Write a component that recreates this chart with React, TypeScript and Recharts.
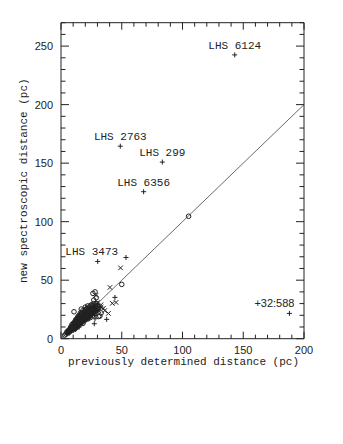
import { ScatterChart, Scatter, XAxis, YAxis, ReferenceLine, Label } from "recharts";

// distances in pc: [previously determined, new spectroscopic]
const xTicks = [0, 10, 20, 30, 40, 50, 60, 70, 80, 90, 100, 110, 120, 130, 140, 150, 160, 170, 180, 190, 200];
const yTicks = [0, 10, 20, 30, 40, 50, 60, 70, 80, 90, 100, 110, 120, 130, 140, 150, 160, 170, 180, 190, 200, 210, 220, 230, 240, 250, 260, 270];

const circlePoints: [number, number][] = [
  [3, 3], [4, 4], [5, 5], [5, 6], [6, 5], [6, 7], [7, 6], [7, 8], [8, 7], [8, 9], [9, 8], [9, 10],
  [10, 9], [10, 11], [10, 13], [11, 10], [11, 12], [11, 14], [12, 11], [12, 13], [12, 16], [13, 12],
  [13, 15], [13, 17], [14, 13], [14, 16], [14, 19], [15, 12], [15, 15], [15, 18], [16, 14], [16, 17],
  [16, 20], [17, 15], [17, 18], [17, 22], [18, 16], [18, 19], [18, 24], [19, 17], [19, 21], [20, 18],
  [20, 22], [20, 25], [21, 19], [21, 23], [22, 18], [22, 21], [22, 26], [23, 20], [23, 24], [24, 22],
  [24, 26], [25, 21], [25, 24], [26, 23], [26, 28], [27, 25], [27, 33], [28, 40], [28, 24], [29, 27],
  [29, 30], [30, 26], [31, 19], [32, 19.4], [33, 22], [10.7, 23], [16.7, 25.3], [26.3, 38.7],
  [50, 46.4], [105, 104.6], [6, 6], [8, 8], [9, 12], [10, 10], [11, 11], [12, 12], [13, 14], [14, 14],
  [15, 16], [16, 16], [17, 17], [18, 20], [19, 19], [20, 20], [21, 21], [22, 20], [23, 22], [24, 23],
  [25, 27], [26, 24], [13, 10], [15, 20], [17, 20], [19, 23], [21, 25], [23, 26], [25, 29], [27, 27],
  [12, 14], [14, 11], [16, 13], [18, 13], [20, 16], [22, 17], [24, 18], [26, 20], [28, 22],
  [7, 7], [8, 10], [9, 9], [10, 12], [11, 8], [11, 13], [12, 9], [12, 15], [13, 13], [13, 16],
  [14, 12], [14, 17], [15, 14], [15, 17], [16, 15], [16, 19], [17, 14], [17, 19], [18, 17], [18, 21],
  [19, 16], [19, 20], [20, 17], [20, 21], [21, 18], [21, 22], [22, 19], [22, 24], [23, 19], [23, 23],
  [24, 21], [24, 25], [25, 22], [25, 26], [26, 22], [26, 26], [27, 23], [27, 30], [28, 25], [28, 28],
  [29, 24], [30, 28], [31, 26], [20, 27], [18, 22], [16, 22], [14, 18], [22, 28], [24, 28], [29, 35],
];

const plusPoints: [number, number][] = [
  [5, 4], [7, 5], [8, 6], [9, 7], [10, 8], [11, 9], [12, 10], [12, 8], [13, 11], [14, 10], [14, 12],
  [15, 13], [15, 10], [16, 12], [16, 15], [17, 13], [17, 16], [18, 14], [18, 18], [19, 15], [19, 19],
  [20, 16], [20, 20], [21, 17], [21, 21], [22, 19], [22, 23], [23, 17], [23, 22], [24, 19], [24, 24],
  [25, 20], [25, 23], [26, 21], [26, 25], [27, 22], [27, 28], [28, 20], [28, 26], [29, 23], [30, 25],
  [30, 29], [27.4, 12.8], [28, 17], [37.6, 16.5], [44.4, 35.3], [53.5, 69.4], [6, 6], [9, 9],
  [11, 11], [13, 13], [15, 15], [17, 17], [19, 17], [21, 19], [23, 21], [25, 22], [27, 24], [29, 26],
  [10, 7], [12, 12], [14, 14], [16, 16], [18, 16], [20, 18], [22, 21], [24, 22], [26, 23], [28, 24],
];

const crossPoints: [number, number][] = [
  [49, 60.5], [40.3, 43.8], [45.3, 31], [42.2, 30.2], [39, 21.6], [35, 26], [28.8, 37], [30, 31],
  [27, 29], [33, 27], [36, 24], [20, 17], [22, 22], [18, 15], [25, 26], [24, 20], [16, 18], [14, 15],
  [31, 24], [33, 29], [19, 18], [21, 20],
];

const namedStars = ["LHS 6124", "LHS 2763", "LHS 299", "LHS 6356", "LHS 3473", "+32:588"];
const namedPrev = [143, 48.8, 83.4, 68, 30.2, 188];
const namedNew = [242.5, 164.5, 150.9, 125.6, 66, 21.6];

const INK = "#222";
const MONO = "'Liberation Mono', 'DejaVu Sans Mono', monospace";
const SANS = "'Liberation Sans', Arial, sans-serif";

// nudge some labels sideways so they sit like the original
const labelDx: Record<string, number> = { "LHS 3473": -6, "+32:588": -15 };

const toXY = (pts: [number, number][]) => pts.map(([x, y]) => ({ x, y }));
const named = namedStars.map((name, i) => ({ name, x: namedPrev[i], y: namedNew[i] }));

// plot frame (px)
const LEFT = 61;
const RIGHT = 304;
const TOP = 22.7;
const BOTTOM = 338.7;

function Plus({ cx, cy }: any) {
  return (
    <path d={`M${cx - 2.5},${cy}H${cx + 2.5}M${cx},${cy - 2.5}V${cy + 2.5}`} stroke={INK} strokeWidth={1} fill="none" />
  );
}

function Cross({ cx, cy }: any) {
  return (
    <path d={`M${cx - 2.3},${cy - 2.3}L${cx + 2.3},${cy + 2.3}M${cx - 2.3},${cy + 2.3}L${cx + 2.3},${cy - 2.3}`} stroke={INK} strokeWidth={1} fill="none" />
  );
}

function Ring({ cx, cy }: any) {
  return <circle cx={cx} cy={cy} r={2.3} stroke={INK} strokeWidth={1} fill="none" />;
}

function NamedPlus(props: any) {
  const { cx, cy, payload } = props;
  const isBD = payload.name.startsWith("+");
  return (
    <g>
      <Plus cx={cx} cy={cy} />
      <text
        x={cx + (labelDx[payload.name] ?? 0)}
        y={cy - 6}
        textAnchor="middle"
        fontFamily={isBD ? SANS : MONO}
        fontSize={11}
        fill={INK}
      >
        {payload.name}
      </text>
    </g>
  );
}

// x-ticks: draw inward from both horizontal frame edges
function XTick({ x, payload }: any) {
  const major = payload.value % 50 === 0;
  const len = major ? 7 : 4;
  return (
    <g>
      <line x1={x} x2={x} y1={BOTTOM} y2={BOTTOM - len} stroke={INK} />
      <line x1={x} x2={x} y1={TOP} y2={TOP + len} stroke={INK} />
      {major && (
        <text x={x} y={BOTTOM + 15.5} textAnchor="middle" fontFamily={SANS} fontSize={11} fill={INK}>
          {payload.value}
        </text>
      )}
    </g>
  );
}

// y-ticks: draw inward from both vertical frame edges
function YTick({ y, payload }: any) {
  const major = payload.value % 50 === 0;
  const len = major ? 8 : 4.5;
  return (
    <g>
      <line x1={LEFT} x2={LEFT + len} y1={y} y2={y} stroke={INK} />
      <line x1={RIGHT} x2={RIGHT - len} y1={y} y2={y} stroke={INK} />
      {major && (
        <text x={LEFT - 8} y={y + 4} textAnchor="end" fontFamily={SANS} fontSize={11} fill={INK}>
          {payload.value}
        </text>
      )}
    </g>
  );
}

export default function App() {
  return (
    <div style={{ position: "absolute", left: 0, top: 0, background: "#fff" }}>
      <ScatterChart width={343} height={444} margin={{ top: TOP, right: 343 - RIGHT, bottom: 65.3, left: 0 }}>
        <XAxis
          type="number"
          dataKey="x"
          domain={[0, 200]}
          ticks={xTicks}
          interval={0}
          height={40}
          tickLine={false}
          tick={<XTick />}
          axisLine={{ stroke: INK }}
          allowDataOverflow
        >
          <Label
            content={() => (
              <text x={183.5} y={364.5} textAnchor="middle" fontFamily={MONO} fontSize={11} fill={INK}>
                previously determined distance (pc)
              </text>
            )}
          />
        </XAxis>
        <YAxis
          type="number"
          dataKey="y"
          domain={[0, 270]}
          ticks={yTicks}
          interval={0}
          width={LEFT}
          tickLine={false}
          tick={<YTick />}
          axisLine={{ stroke: INK }}
          allowDataOverflow
        >
          <Label
            content={() => (
              <text
                x={27.5}
                y={180.7}
                transform="rotate(-90, 27.5, 180.7)"
                textAnchor="middle"
                fontFamily={MONO}
                fontSize={11}
                fill={INK}
              >
                new spectroscopic distance (pc)
              </text>
            )}
          />
        </YAxis>
        <ReferenceLine y={270} stroke={INK} ifOverflow="visible" />
        <ReferenceLine x={200} stroke={INK} ifOverflow="visible" />
        <ReferenceLine
          segment={[{ x: 0, y: 0 }, { x: 200, y: 200 }]}
          stroke="#444"
          strokeWidth={0.8}
          ifOverflow="visible"
        />
        <Scatter data={toXY(circlePoints)} shape={<Ring />} isAnimationActive={false} />
        <Scatter data={toXY(plusPoints)} shape={<Plus />} isAnimationActive={false} />
        <Scatter data={toXY(crossPoints)} shape={<Cross />} isAnimationActive={false} />
        <Scatter data={named} shape={<NamedPlus />} isAnimationActive={false} />
      </ScatterChart>
    </div>
  );
}
